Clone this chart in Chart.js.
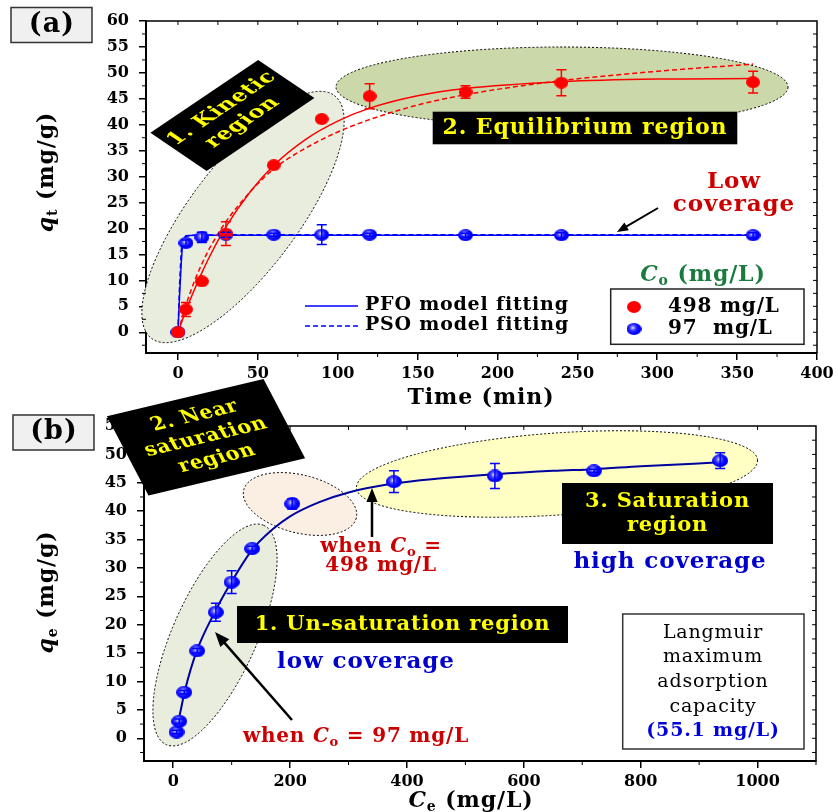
<!DOCTYPE html>
<html>
<head>
<meta charset="utf-8">
<script src="https://cdn.jsdelivr.net/npm/chart.js@4.4.0/dist/chart.umd.min.js"></script>
<style>
  body { margin: 0; background: #fff; width: 838px; height: 812px; overflow: hidden; position: relative; }
  canvas { position: absolute; left: 0; }
  #ca { top: 0; }
  #cb { top: 370px; }
</style>
</head>
<body>
<canvas id="ca" width="838" height="412"></canvas>
<canvas id="cb" width="838" height="442"></canvas>
<script>
// ---------- panel (a): adsorption kinetics ----------
const timeRed = [0, 5, 15, 30, 60, 90, 120, 180, 240, 360];
const qRed = [0, 4.4, 9.8, 19, 32.2, 41.1, 45.5, 46.3, 48.1, 48.2];
const errRed = [0, 1.35, 0, 2.3, 0, 0, 2.4, 1.2, 2.5, 2.1];
const timeBlue = [0, 5, 15, 30, 60, 90, 120, 180, 240, 360];
const qBlue = [0, 17.2, 18.3, 18.8, 18.8, 18.8, 18.8, 18.7, 18.7, 18.7];
const errBlue = [0, 0.6, 1.0, 0.5, 0.3, 1.9, 0.3, 0.4, 0.5, 0.5];

// fitted curves
const fitTimeRed = [0, 2, 5, 10, 15, 20, 30, 45, 60, 80, 100, 120, 150, 180, 240, 300, 360];
const pfoRed = [0, 1.7, 4.2, 8.0, 11.5, 14.7, 20.3, 27.0, 32.2, 37.2, 40.7, 43.2, 45.6, 47.0, 48.3, 48.8, 48.9];
const psoRed = [0, 2.1, 5.2, 9.6, 13.2, 16.3, 21.3, 27.0, 31.5, 35.5, 38.6, 41.0, 43.8, 45.8, 48.5, 50.3, 51.7];
const fitTimeBlue = [0, 1, 2, 3, 5, 10, 30, 60, 120, 240, 360];
const pfoBlue = [0, 7, 13, 17.8, 18.6, 18.7, 18.7, 18.7, 18.7, 18.7, 18.7];
const psoBlue = [0, 9, 15.5, 17.9, 18.5, 18.7, 18.8, 18.8, 18.8, 18.8, 18.8];

const xTicksA = [0, 50, 100, 150, 200, 250, 300, 350, 400];
const yTicksA = [0, 5, 10, 15, 20, 25, 30, 35, 40, 45, 50, 55, 60];
const xMinorA = [25, 75, 125, 175, 225, 275, 325, 375];
const yMinorA = [-2.5, 2.5, 7.5, 12.5, 17.5, 22.5, 27.5, 32.5, 37.5, 42.5, 47.5, 52.5, 57.5];

// ---------- panel (b): Langmuir isotherm ----------
const ceData = [5.8, 10.3, 18.8, 41, 73, 100, 135, 203.6, 377.7, 550.5, 720, 936];
const qeData = [1.1, 3.0, 8.1, 15.4, 22.2, 27.5, 33.4, 41.3, 45.2, 46.2, 47.1, 48.9];
const qeErr = [0.3, 0.4, 0.3, 0.4, 1.6, 2.0, 0.4, 0.9, 1.9, 2.2, 0.3, 1.4];
const ceFit = [4, 10, 20, 40, 70, 100, 135, 170, 200, 250, 300, 380, 450, 550, 650, 720, 800, 936];
const qeFit = [1.5, 3.6, 8.4, 15.3, 22.0, 27.6, 33.2, 36.8, 39.1, 41.6, 43.3, 44.9, 45.7, 46.5, 47.1, 47.4, 47.9, 48.6];

const xTicksB = [0, 200, 400, 600, 800, 1000];
const yTicksB = [0, 5, 10, 15, 20, 25, 30, 35, 40, 45, 50, 55];
const xMinorB = [100, 300, 500, 700, 900, 1100];
const yMinorB = [-2.5, 2.5, 7.5, 12.5, 17.5, 22.5, 27.5, 32.5, 37.5, 42.5, 47.5, 52.5];

const SERIF = '"DejaVu Serif", "Liberation Serif", serif';

function dot(w, h, color, glossy) {
  const c = document.createElement('canvas');
  c.width = w; c.height = h;
  const g = c.getContext('2d');
  g.fillStyle = color;
  g.beginPath(); g.ellipse(w / 2, h / 2, w / 2, h / 2, 0, 0, Math.PI * 2); g.fill();
  if (glossy) {
    const gr = g.createRadialGradient(w * 0.42, h * 0.4, 0, w * 0.42, h * 0.4, w * 0.45);
    gr.addColorStop(0, 'rgba(255,255,255,0.95)');
    gr.addColorStop(0.35, 'rgba(160,160,255,0.55)');
    gr.addColorStop(1, 'rgba(0,0,255,0)');
    g.fillStyle = gr; g.fill();
  }
  return c;
}
const redDot = dot(14, 12, '#ff0000', false);
const blueDotA = dot(15, 12, '#0000ff', true);
const blueDotB = dot(16, 13, '#0000ff', true);

const pts = (xs, ys) => xs.map((x, i) => ({ x: x, y: ys[i] }));

// rich text: parts = [[text, flags]] flags: i italic, s subscript, n normal weight
function rich(ctx, parts, x, y, size, color, align) {
  ctx.save();
  const ls = (size * 0.04).toFixed(1) + 'px';
  let w = 0;
  const segs = parts.map(p => {
    const t = p[0], st = p[1] || '';
    const sz = st.includes('s') ? Math.round(size * 0.65) : size;
    const f = (st.includes('i') ? 'italic ' : '') + (st.includes('n') ? '' : 'bold ') + sz + 'px ' + SERIF;
    ctx.font = f;
    ctx.letterSpacing = ls;
    const mw = ctx.measureText(t).width;
    w += mw;
    return { t: t, f: f, mw: mw, dy: st.includes('s') ? size * 0.28 : 0 };
  });
  let cx = align === 'left' ? x : align === 'right' ? x - w : x - w / 2;
  ctx.fillStyle = color; ctx.textBaseline = 'middle'; ctx.textAlign = 'left';
  segs.forEach(s => { ctx.font = s.f; ctx.letterSpacing = ls; ctx.fillText(s.t, cx, y + s.dy); cx += s.mw; });
  ctx.restore();
}

function ellipse(ctx, cx, cy, rx, ry, rot, fill) {
  ctx.save();
  ctx.beginPath();
  ctx.ellipse(cx, cy, rx, ry, rot * Math.PI / 180, 0, Math.PI * 2);
  ctx.fillStyle = fill; ctx.fill();
  ctx.setLineDash([2, 2]); ctx.lineWidth = 1; ctx.strokeStyle = '#000'; ctx.stroke();
  ctx.restore();
}

// black label box, possibly sheared: u, v are the box edge directions
function skewBox(ctx, cx, cy, u, v, w, h, lines, size, gap) {
  ctx.save();
  ctx.transform(u[0], u[1], v[0], v[1], cx, cy);
  ctx.fillStyle = '#000';
  ctx.fillRect(-w / 2, -h / 2, w, h);
  const y0 = -gap * (lines.length - 1) / 2;
  lines.forEach((l, i) => rich(ctx, [[l]], 0, y0 + i * gap, size, '#ffff00', 'center'));
  ctx.restore();
}

function rectBox(ctx, x1, y1, x2, y2, fill, stroke) {
  ctx.save();
  if (fill) { ctx.fillStyle = fill; ctx.fillRect(x1, y1, x2 - x1, y2 - y1); }
  if (stroke) { ctx.strokeStyle = stroke; ctx.lineWidth = 1.5; ctx.strokeRect(x1, y1, x2 - x1, y2 - y1); }
  ctx.restore();
}

function arrow(ctx, x1, y1, x2, y2, head, lw) {
  const a = Math.atan2(y2 - y1, x2 - x1);
  ctx.save();
  ctx.strokeStyle = '#000'; ctx.fillStyle = '#000'; ctx.lineWidth = lw;
  ctx.beginPath(); ctx.moveTo(x1, y1);
  ctx.lineTo(x2 - Math.cos(a) * head * 0.8, y2 - Math.sin(a) * head * 0.8); ctx.stroke();
  ctx.beginPath(); ctx.moveTo(x2, y2);
  ctx.lineTo(x2 - head * Math.cos(a - 0.38), y2 - head * Math.sin(a - 0.38));
  ctx.lineTo(x2 - head * Math.cos(a + 0.38), y2 - head * Math.sin(a + 0.38));
  ctx.closePath(); ctx.fill();
  ctx.restore();
}

function errBars(chart, xs, ys, es, color) {
  const ctx = chart.ctx, sx = chart.scales.x, sy = chart.scales.y;
  ctx.save(); ctx.strokeStyle = color; ctx.lineWidth = 1.5;
  xs.forEach((x, i) => {
    if (!es[i]) return;
    const px = sx.getPixelForValue(x);
    const p1 = sy.getPixelForValue(ys[i] + es[i]), p2 = sy.getPixelForValue(ys[i] - es[i]);
    ctx.beginPath();
    ctx.moveTo(px, p1); ctx.lineTo(px, p2);
    ctx.moveTo(px - 5, p1); ctx.lineTo(px + 5, p1);
    ctx.moveTo(px - 5, p2); ctx.lineTo(px + 5, p2);
    ctx.stroke();
  });
  ctx.restore();
}

function frame(chart, xMinor, yMinor) {
  const ctx = chart.ctx, sx = chart.scales.x, sy = chart.scales.y;
  const { left, right, top, bottom } = chart.chartArea;
  ctx.save(); ctx.strokeStyle = '#000'; ctx.lineWidth = 1.5;
  ctx.beginPath(); ctx.moveTo(left, top); ctx.lineTo(right, top); ctx.lineTo(right, bottom); ctx.stroke();
  ctx.lineWidth = 1;
  ctx.beginPath();
  const xAll = sx.ticks.map(t => t.value).concat(xMinor);
  const yAll = sy.ticks.map(t => t.value).concat(yMinor);
  xMinor.forEach(v => { const p = sx.getPixelForValue(v); ctx.moveTo(p, bottom); ctx.lineTo(p, bottom + 4); });
  yMinor.forEach(v => { const p = sy.getPixelForValue(v); ctx.moveTo(left - 4, p); ctx.lineTo(left, p); });
  xAll.forEach(v => { const p = sx.getPixelForValue(v); if (p > left + 2 && p < right - 2) { ctx.moveTo(p, top); ctx.lineTo(p, top + 4); } });
  yAll.forEach(v => { const p = sy.getPixelForValue(v); if (p > top + 2 && p < bottom - 2) { ctx.moveTo(right - 4, p); ctx.lineTo(right, p); } });
  ctx.stroke();
  ctx.restore();
}

function axisScales(xMin, xMax, xTicks, yMin, yMax, yTicks, xH, yW) {
  const tickFont = { family: SERIF, weight: 'bold', size: 16 };
  return {
    x: {
      type: 'linear', min: xMin, max: xMax,
      afterBuildTicks: s => { s.ticks = xTicks.map(v => ({ value: v })); },
      afterFit: s => { s.height = xH; },
      ticks: { font: tickFont, color: '#000', padding: 4, maxRotation: 0, autoSkip: false, callback: v => String(v) },
      grid: { drawOnChartArea: false, tickLength: 7, color: '#000', lineWidth: 1.5 },
      border: { color: '#000', width: 2 }
    },
    y: {
      type: 'linear', min: yMin, max: yMax,
      afterBuildTicks: s => { s.ticks = yTicks.map(v => ({ value: v })); },
      afterFit: s => { s.width = yW; },
      ticks: { font: tickFont, color: '#000', padding: 10, autoSkip: false, callback: v => String(v) },
      grid: { drawOnChartArea: false, tickLength: 7, color: '#000', lineWidth: 1.5 },
      border: { color: '#000', width: 2 }
    }
  };
}

// ---------- chart (a) ----------
const annA = {
  id: 'annA',
  beforeDatasetsDraw(chart) {
    const ctx = chart.ctx;
    ellipse(ctx, 243, 217, 152, 54, -53, '#e9eddd');
    ellipse(ctx, 562, 87, 226, 40, 0, '#cbd9aa');
  },
  afterDatasetsDraw(chart) {
    const ctx = chart.ctx;
    errBars(chart, timeBlue, qBlue, errBlue, '#0000ff');
    errBars(chart, timeRed, qRed, errRed, '#ff0000');
    frame(chart, xMinorA, yMinorA);

    skewBox(ctx, 232.4, 115.4, [0.829, -0.560], [0.827, 0.562], 130, 68, ['1. Kinetic', 'region'], 21, 25);
    rectBox(ctx, 432.7, 111.7, 737.3, 144.3, '#000');
    rich(ctx, [['2. Equilibrium region']], 585, 128, 22, '#ffff00', 'center');

    rich(ctx, [['Low']], 734, 182, 23, '#cc0000', 'center');
    rich(ctx, [['coverage']], 734, 205, 23, '#cc0000', 'center');
    arrow(ctx, 658, 208, 617, 232, 12, 2);

    // fitting-model legend
    ctx.save();
    ctx.strokeStyle = '#0000ff'; ctx.lineWidth = 1.5;
    ctx.beginPath(); ctx.moveTo(305, 306); ctx.lineTo(358, 306); ctx.stroke();
    ctx.setLineDash([5, 3]);
    ctx.beginPath(); ctx.moveTo(305, 326); ctx.lineTo(358, 326); ctx.stroke();
    ctx.restore();
    rich(ctx, [['PFO model fitting']], 365, 305, 19, '#000', 'left');
    rich(ctx, [['PSO model fitting']], 365, 325, 19, '#000', 'left');

    // concentration legend
    rich(ctx, [['C', 'i'], ['o', 's'], [' (mg/L)']], 703, 275, 22, '#1b7a3e', 'center');
    rectBox(ctx, 610.7, 289, 804, 344.3, '#fff', '#222');
    ctx.drawImage(redDot, 634 - 7, 307 - 6);
    ctx.drawImage(blueDotA, 634 - 7.5, 329 - 6);
    rich(ctx, [['498 mg/L']], 668, 307, 20, '#000', 'left');
    rich(ctx, [['97  mg/L']], 668, 329, 20, '#000', 'left');

    // axis titles and panel tag
    rich(ctx, [['Time (min)']], 481, 398, 22, '#000', 'center');
    ctx.save(); ctx.translate(47, 172); ctx.rotate(-Math.PI / 2);
    rich(ctx, [['q', 'i'], ['t', 's'], [' (mg/g)']], 0, 0, 22, '#000', 'center');
    ctx.restore();
    rectBox(ctx, 11, 7.5, 92, 42.5, '#f0f0f0', '#333');
    rich(ctx, [['(a)']], 52, 25, 27, '#000', 'center');
  }
};

new Chart(document.getElementById('ca'), {
  type: 'scatter',
  data: {
    datasets: [
      { label: '498 mg/L', data: pts(timeRed, qRed), pointStyle: redDot, pointRadius: 7, order: 0 },
      { label: '97 mg/L', data: pts(timeBlue, qBlue), pointStyle: blueDotA, pointRadius: 7, order: 1 },
      { type: 'line', label: 'PFO 498', data: pts(fitTimeRed, pfoRed), borderColor: '#ff0000', borderWidth: 1.5, pointRadius: 0, cubicInterpolationMode: 'monotone', order: 2 },
      { type: 'line', label: 'PSO 498', data: pts(fitTimeRed, psoRed), borderColor: '#ff0000', borderWidth: 1.5, borderDash: [5, 3], pointRadius: 0, cubicInterpolationMode: 'monotone', order: 2 },
      { type: 'line', label: 'PFO 97', data: pts(fitTimeBlue, pfoBlue), borderColor: '#0000ff', borderWidth: 1.5, pointRadius: 0, order: 3 },
      { type: 'line', label: 'PSO 97', data: pts(fitTimeBlue, psoBlue), borderColor: '#0000ff', borderWidth: 1.5, borderDash: [5, 3], pointRadius: 0, order: 3 }
    ]
  },
  options: {
    responsive: false, animation: false, devicePixelRatio: 1,
    layout: { padding: { left: 0, right: 21, top: 21, bottom: 0 } },
    plugins: { legend: { display: false }, tooltip: { enabled: false } },
    scales: axisScales(-20, 400, xTicksA, -4, 60, yTicksA, 59, 146)
  },
  plugins: [annA]
});

// ---------- chart (b) ----------
const OFF = 370;
const annB = {
  id: 'annB',
  beforeDatasetsDraw(chart) {
    const ctx = chart.ctx;
    ctx.save(); ctx.translate(0, -OFF);
    ellipse(ctx, 215, 635, 120, 42, -66, '#e9eddd');
    ellipse(ctx, 300, 504, 58, 29, 14, '#fbeee3');
    ellipse(ctx, 557, 474, 201, 41, -4, '#ffffc4');
    ctx.restore();
  },
  afterDatasetsDraw(chart) {
    const ctx = chart.ctx;
    errBars(chart, ceData, qeData, qeErr, '#0000ff');
    frame(chart, xMinorB, yMinorB);
    ctx.save(); ctx.translate(0, -OFF);

    skewBox(ctx, 206, 437.3, [0.973, -0.232], [0.465, 0.886], 161, 89.5, ['2. Near', 'saturation', 'region'], 20, 24);
    rectBox(ctx, 237, 606, 568, 643, '#000');
    rich(ctx, [['1. Un-saturation region']], 402.5, 624.5, 21, '#ffff00', 'center');
    rich(ctx, [['low coverage']], 366, 662, 23, '#0000cc', 'center');

    rectBox(ctx, 562, 483, 773, 544, '#000');
    rich(ctx, [['3. Saturation']], 667.5, 502, 21, '#ffff00', 'center');
    rich(ctx, [['region']], 667.5, 526, 21, '#ffff00', 'center');
    rich(ctx, [['high coverage']], 670, 562, 23, '#0000cc', 'center');

    rich(ctx, [['when '], ['C', 'i'], ['o', 's'], [' =']], 381, 547, 20, '#cc0000', 'center');
    rich(ctx, [['498 mg/L']], 381, 566, 20, '#cc0000', 'center');
    arrow(ctx, 372, 537, 372, 488, 15, 2.5);

    rich(ctx, [['when '], ['C', 'i'], ['o', 's'], [' = 97 mg/L']], 356, 737, 20, '#cc0000', 'center');
    arrow(ctx, 292, 720, 215, 632, 16, 2.5);

    rectBox(ctx, 622.7, 614, 804, 749, '#fff', '#333');
    rich(ctx, [['Langmuir', 'n']], 713, 633, 19, '#000', 'center');
    rich(ctx, [['maximum', 'n']], 713, 657, 19, '#000', 'center');
    rich(ctx, [['adsorption', 'n']], 713, 682, 19, '#000', 'center');
    rich(ctx, [['capacity', 'n']], 713, 707, 19, '#000', 'center');
    rich(ctx, [['(55.1 mg/L)']], 713, 731, 19, '#0000dd', 'center');

    rich(ctx, [['C', 'i'], ['e', 's'], [' (mg/L)']], 471, 801, 22, '#000', 'center');
    ctx.save(); ctx.translate(47, 592); ctx.rotate(-Math.PI / 2);
    rich(ctx, [['q', 'i'], ['e', 's'], [' (mg/g)']], 0, 0, 22, '#000', 'center');
    ctx.restore();
    rectBox(ctx, 13, 415, 94, 450, '#f0f0f0', '#333');
    rich(ctx, [['(b)']], 54, 432, 27, '#000', 'center');
    ctx.restore();
  }
};

new Chart(document.getElementById('cb'), {
  type: 'scatter',
  data: {
    datasets: [
      { label: 'qe', data: pts(ceData, qeData), pointStyle: blueDotB, pointRadius: 7, order: 0 },
      { type: 'line', label: 'Langmuir', data: pts(ceFit, qeFit), borderColor: '#0000a0', borderWidth: 2, pointRadius: 0, cubicInterpolationMode: 'monotone', order: 1 }
    ]
  },
  options: {
    responsive: false, animation: false, devicePixelRatio: 1,
    layout: { padding: { left: 0, right: 22, top: 56, bottom: 0 } },
    plugins: { legend: { display: false }, tooltip: { enabled: false } },
    scales: axisScales(-50, 1100, xTicksB, -4, 55, yTicksB, 51, 144)
  },
  plugins: [annB]
});
</script>
</body>
</html>
